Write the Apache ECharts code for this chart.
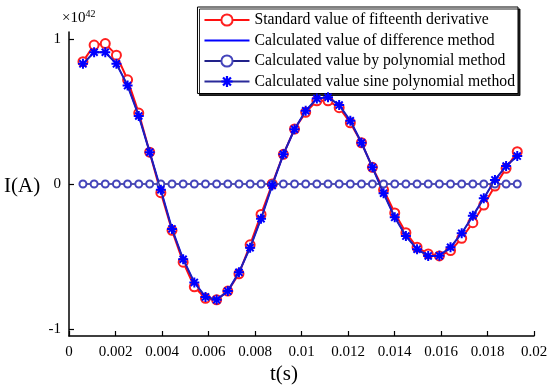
<!DOCTYPE html>
<html>
<head>
<meta charset="utf-8">
<script src="https://cdn.jsdelivr.net/npm/echarts@6/dist/echarts.min.js"></script>
<style>
  html, body { margin: 0; padding: 0; background: #fff; }
  #main { width: 551px; height: 391px; }
</style>
</head>
<body>
<div id="main"></div>
<script>
  // time points (s)
  var tValues = [0.00060, 0.00108, 0.00156, 0.00204, 0.00252, 0.00300, 0.00347, 0.00395,
    0.00443, 0.00491, 0.00539, 0.00587, 0.00635, 0.00683, 0.00731, 0.00779, 0.00826, 0.00874,
    0.00922, 0.00970, 0.01018, 0.01066, 0.01114, 0.01162, 0.01210, 0.01258, 0.01305, 0.01353,
    0.01401, 0.01449, 0.01497, 0.01545, 0.01593, 0.01641, 0.01689, 0.01737, 0.01784, 0.01832,
    0.01880, 0.01928];

  // values in units of 1e42
  var standardValues = [0.845, 0.96, 0.97, 0.89, 0.72, 0.49, 0.22, -0.06, -0.32, -0.54,
    -0.71, -0.79, -0.80, -0.74, -0.62, -0.42, -0.21, 0.0, 0.205, 0.38,
    0.495, 0.575, 0.575, 0.527, 0.423, 0.285, 0.115, -0.04, -0.20, -0.336,
    -0.437, -0.483, -0.497, -0.46, -0.375, -0.267, -0.145, -0.014, 0.108, 0.223];

  var differenceValues = [0.83, 0.91, 0.91, 0.83, 0.68, 0.47, 0.22, -0.04, -0.31, -0.52,
    -0.68, -0.78, -0.80, -0.74, -0.61, -0.44, -0.24, -0.01, 0.205, 0.378,
    0.506, 0.59, 0.60, 0.545, 0.437, 0.285, 0.115, -0.064, -0.23, -0.36,
    -0.45, -0.497, -0.495, -0.437, -0.34, -0.22, -0.099, 0.028, 0.124, 0.193];

  var polynomialValues = [0, 0, 0, 0, 0, 0, 0, 0, 0, 0,
    0, 0, 0, 0, 0, 0, 0, 0, 0, 0,
    0, 0, 0, 0, 0, 0, 0, 0, 0, 0,
    0, 0, 0, 0, 0, 0, 0, 0, 0, 0];

  var sineValues = [0.83, 0.91, 0.91, 0.83, 0.68, 0.47, 0.22, -0.04, -0.31, -0.52,
    -0.68, -0.78, -0.80, -0.74, -0.61, -0.44, -0.24, -0.01, 0.205, 0.378,
    0.506, 0.59, 0.60, 0.545, 0.437, 0.285, 0.115, -0.064, -0.23, -0.36,
    -0.45, -0.497, -0.495, -0.437, -0.34, -0.22, -0.099, 0.028, 0.124, 0.193];

  var xTicks = [0, 0.002, 0.004, 0.006, 0.008, 0.01, 0.012, 0.014, 0.016, 0.018, 0.02];
  var yTicks = [-1, 0, 1];

  var seriesNames = [
    'Standard value of fifteenth derivative',
    'Calculated value of difference method',
    'Calculated value by polynomial method',
    'Calculated value sine polynomial method'
  ];

  function pairs(vals) {
    return tValues.map(function (t, i) { return [t, vals[i]]; });
  }

  // asterisk marker (MATLAB '*')
  var starPath = 'path://M-1,-0.2L1,-0.2L1,0.2L-1,0.2Z' +
    'M-0.2,-1L0.2,-1L0.2,1L-0.2,1Z' +
    'M-0.566,-0.849L0.849,0.566L0.566,0.849L-0.849,-0.566Z' +
    'M-0.849,0.566L0.566,-0.849L0.849,-0.566L-0.566,0.849Z';

  var font = 'Liberation Serif';
  var chart = echarts.init(document.getElementById('main'));

  var option = {
    backgroundColor: '#fff',
    animation: false,
    grid: { left: 69, right: 17, top: 32, bottom: 55 },
    legend: {
      orient: 'vertical',
      right: 33,
      top: 7,
      backgroundColor: '#fff',
      borderColor: '#000',
      borderWidth: 1,
      shadowColor: 'rgba(0,0,0,0.85)',
      shadowBlur: 0,
      shadowOffsetX: 2,
      shadowOffsetY: 2,
      padding: [5, 3, 4, 6],
      itemGap: 4.5,
      itemWidth: 45,
      itemHeight: 14,
      textStyle: { fontFamily: font, fontSize: 15.7, color: '#000', lineHeight: 15 },
      data: [
        seriesNames[0],
        { name: seriesNames[1], itemStyle: { opacity: 0 } },
        seriesNames[2],
        seriesNames[3]
      ]
    },
    xAxis: {
      type: 'value',
      min: 0,
      max: 0.02,
      interval: 0.002,
      axisLine: { onZero: false, lineStyle: { color: '#000', width: 1.5 } },
      axisTick: { inside: true, length: 5, lineStyle: { color: '#000', width: 1.2 } },
      axisLabel: {
        margin: 9,
        fontFamily: font,
        fontSize: 15,
        color: '#000',
        customValues: xTicks,
        formatter: function (v) { return String(+v.toFixed(3)); }
      },
      splitLine: { show: false }
    },
    yAxis: {
      type: 'value',
      min: -1.05,
      max: 1.05,
      axisLine: { show: true, onZero: false, lineStyle: { color: '#000', width: 1.5 } },
      axisTick: { show: true, inside: true, length: 5, customValues: yTicks, lineStyle: { color: '#000', width: 1.2 } },
      axisLabel: {
        margin: 8,
        fontFamily: font,
        fontSize: 15,
        color: '#000',
        customValues: yTicks
      },
      splitLine: { show: false }
    },
    graphic: [
      {
        type: 'text',
        left: 62,
        top: 9,
        style: {
          text: '×10{s|42}',
          font: '15px "Liberation Serif"',
          fill: '#000',
          rich: { s: { fontSize: 10, fontFamily: font, verticalAlign: 'top', padding: [0, 0, 8, 0] } }
        }
      },
      {
        type: 'text',
        left: 4,
        top: 176,
        style: { text: 'I(A)', font: '21px "Liberation Serif"', fill: '#000' }
      },
      {
        type: 'text',
        left: 270,
        top: 364,
        style: { text: 't(s)', font: '21px "Liberation Serif"', fill: '#000' }
      }
    ],
    series: [
      {
        name: seriesNames[0],
        type: 'line',
        data: pairs(standardValues),
        symbol: 'emptyCircle',
        symbolSize: 9,
        lineStyle: { color: '#ff1010', width: 2 },
        itemStyle: { color: '#ff2020', borderWidth: 1.3 },
        z: 2
      },
      {
        name: seriesNames[1],
        type: 'line',
        data: pairs(differenceValues),
        symbol: 'none',
        lineStyle: { color: '#0000ff', width: 2 },
        itemStyle: { color: '#0000ff' },
        z: 3
      },
      {
        name: seriesNames[2],
        type: 'line',
        data: pairs(polynomialValues),
        symbol: 'emptyCircle',
        symbolSize: 7,
        lineStyle: { color: '#22228a', width: 1.5 },
        itemStyle: { color: '#4444bb', borderWidth: 1.5 },
        z: 4
      },
      {
        name: seriesNames[3],
        type: 'line',
        data: pairs(sineValues),
        symbol: starPath,
        symbolSize: 10,
        lineStyle: { color: '#2a2a9a', width: 1.2 },
        itemStyle: { color: '#0000ff' },
        z: 5
      }
    ]
  };

  chart.setOption(option);
</script>
</body>
</html>
